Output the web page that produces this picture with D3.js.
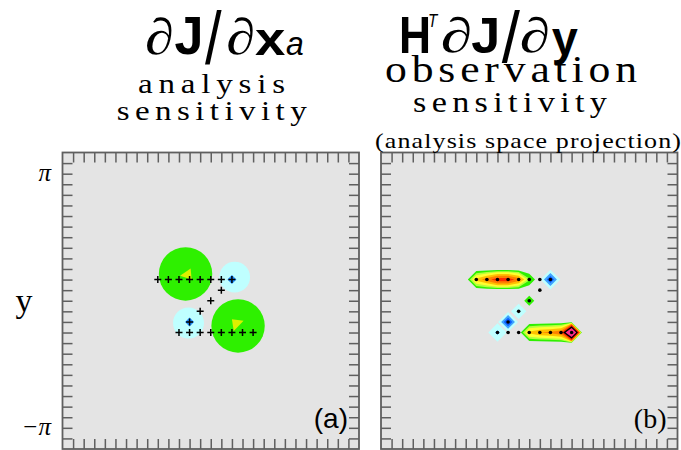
<!DOCTYPE html>
<html>
<head>
<meta charset="utf-8">
<script src="https://cdn.jsdelivr.net/npm/d3@7"></script>
<style>
  body { margin: 0; background: #fff; }
</style>
</head>
<body>
<svg id="chart" width="681" height="450"></svg>
<script>
// model grid: 29 x 29 points, index 2 = pi, index 26 = -pi
const gridN = 29;
const gridTicks = d3.range(1, 28);
const yTickVals = [Math.PI, -Math.PI];
const yTickLabels = ['π', '−π'];

// observation locations (grid index) along the Z path
const obsI = [9, 10, 11, 12, 13, 14, 15, 16, 15, 14, 13, 12, 11, 12, 13, 14, 15, 16, 17, 18];
const obsJ = [12, 12, 12, 12, 12, 12, 12, 12, 13, 14, 15, 16, 17, 17, 17, 17, 17, 17, 17, 17];

// panel (b): observation sensitivity at each location
const obsSens = [0.5, 0.7, 0.95, 0.95, 0.7, 0.22, 0.0, -0.9,
                 0.0, 0.19, -0.22, -1.0,
                 -0.45, 0.0, 0.0, 0.5, 0.6, 0.65, 0.75, 3.0];

const posLevels = [0.1, 0.2, 0.3, 0.45, 0.6, 0.8, 1.2, 1.7, 2.5];
const posColors = ['#2ef000', '#b4ff3c', '#ffff30', '#ffc000', '#ff8000', '#ff2a00', '#000000', '#ff2a8c', '#ff8ad8'];
const negLevels = [0.06, 0.35, 0.6];
const negColors = ['#bfffff', '#3ea2ff', '#0a5cff'];

// panel (a): analysis sensitivity features (grid units)
const bigBlobI = [11.62, 16.58];
const bigBlobJ = [11.47, 16.38];
const bigBlobR = [2.52, 2.52];
const smallBlobI = [16.26, 11.9];
const smallBlobJ = [11.77, 16.1];
const smallBlobR = [1.45, 1.46];
const peakTriangles = [
  [[11.1, 11.65], [12.1, 10.95], [12.2, 12.0]],
  [[16.0, 15.75], [17.1, 15.9], [16.17, 16.85]]
];
const minI = [16, 12];
const minJ = [12, 16];

const svg = d3.select('#chart');
const size = 296.5;
const frameTop = 152.5;
const frameColor = '#5f5f5f';

const panels = [
  { left: 62.5, label: '(a)' },
  { left: 381, label: '(b)' }
];

const serif = '"Liberation Serif", "DejaVu Serif", serif';
const sans = '"Liberation Sans", Arial, sans-serif';
const ctx = document.createElement('canvas').getContext('2d');

function drawFrame(p, drawContent) {
  const gx = d3.scaleLinear().domain([0, 28]).range([p.left, p.left + size]);
  const gy = d3.scaleLinear().domain([0, 28]).range([frameTop, frameTop + size]);
  const g = svg.append('g');

  g.append('rect')
    .attr('x', p.left).attr('y', frameTop)
    .attr('width', size).attr('height', size)
    .attr('fill', '#e4e4e4');

  drawContent(g, gx, gy);

  const axes = [
    [d3.axisTop(gx), `translate(0,${frameTop})`],
    [d3.axisBottom(gx), `translate(0,${frameTop + size})`],
    [d3.axisLeft(gy), `translate(${p.left},0)`],
    [d3.axisRight(gy), `translate(${p.left + size},0)`]
  ];
  axes.forEach(([ax, tr]) => {
    g.append('g')
      .attr('transform', tr)
      .call(ax.tickValues(gridTicks).tickSize(-10).tickFormat(''))
      .call(a => a.select('.domain').remove())
      .selectAll('line')
      .attr('stroke', frameColor)
      .attr('stroke-width', 1.5);
  });

  g.append('rect')
    .attr('x', p.left).attr('y', frameTop)
    .attr('width', size).attr('height', size)
    .attr('fill', 'none')
    .attr('stroke', frameColor)
    .attr('stroke-width', 1.8);

  g.append('text')
    .attr('x', p.left + size - 11)
    .attr('y', frameTop + size - 21)
    .attr('text-anchor', 'end')
    .style('font-family', p.label === '(a)' ? sans : serif)
    .style('font-size', '28px')
    .text(p.label);
  return { gx, gy };
}

// panel (a)
const pa = drawFrame(panels[0], (g, gx, gy) => {
  const rpx = r => gx(r) - gx(0);
  g.selectAll('circle.big')
    .data(bigBlobI)
    .join('circle')
    .attr('class', 'big')
    .attr('cx', d => gx(d))
    .attr('cy', (d, i) => gy(bigBlobJ[i]))
    .attr('r', (d, i) => rpx(bigBlobR[i]))
    .attr('fill', '#2ef000');

  g.selectAll('circle.small')
    .data(smallBlobI)
    .join('circle')
    .attr('class', 'small')
    .attr('cx', d => gx(d))
    .attr('cy', (d, i) => gy(smallBlobJ[i]))
    .attr('r', (d, i) => rpx(smallBlobR[i]))
    .attr('fill', '#bfffff');

  g.selectAll('path.peak')
    .data(peakTriangles)
    .join('path')
    .attr('class', 'peak')
    .attr('d', d => 'M' + d.map(v => [gx(v[0]), gy(v[1])].join(',')).join('L') + 'Z')
    .attr('fill', '#ddf000');

  g.selectAll('path.min')
    .data(minI)
    .join('path')
    .attr('class', 'min')
    .attr('d', (d, i) => {
      const x = gx(d), y = gy(minJ[i]), s = 4.5;
      return `M${x - s},${y}L${x},${y - s}L${x + s},${y}L${x},${y + s}Z`;
    })
    .attr('fill', '#1e8cff');

  g.selectAll('path.obs')
    .data(obsI)
    .join('path')
    .attr('class', 'obs')
    .attr('transform', (d, i) => `translate(${gx(d)},${gy(obsJ[i])})`)
    .attr('d', 'M-3.5,0H3.5M0,-3.5V3.5')
    .attr('stroke', '#000')
    .attr('stroke-width', 1.5);
});

// panel (b)
const pb = drawFrame(panels[1], (g, gx, gy) => {
  const pos = new Array(gridN * gridN).fill(0);
  const neg = new Array(gridN * gridN).fill(0);
  obsI.forEach((ix, k) => {
    const v = obsSens[k];
    if (v > 0) pos[obsJ[k] * gridN + ix] = v;
    if (v < 0) neg[obsJ[k] * gridN + ix] = -v;
  });

  // contour coords put grid point (i,j) at (i+0.5, j+0.5)
  const proj = d3.geoTransform({
    point: function(x, y) { this.stream.point(gx(x - 0.5), gy(y - 0.5)); }
  });
  const path = d3.geoPath(proj);

  g.selectAll('path.pos')
    .data(d3.contours().size([gridN, gridN]).thresholds(posLevels)(pos))
    .join('path')
    .attr('class', 'pos')
    .attr('d', path)
    .attr('fill', (d, i) => posColors[i]);

  g.selectAll('path.neg')
    .data(d3.contours().size([gridN, gridN]).thresholds(negLevels)(neg))
    .join('path')
    .attr('class', 'neg')
    .attr('d', path)
    .attr('fill', (d, i) => negColors[i]);

  g.selectAll('circle.obs')
    .data(obsI)
    .join('circle')
    .attr('class', 'obs')
    .attr('cx', d => gx(d))
    .attr('cy', (d, i) => gy(obsJ[i]))
    .attr('r', 1.8)
    .attr('fill', '#000');
});

// y axis labels (left panel only)
const yRad = d3.scaleLinear()
  .domain([Math.PI, -Math.PI])
  .range([pa.gy(2), pa.gy(26)]);
svg.selectAll('text.ytick')
  .data(yTickVals)
  .join('text')
  .attr('class', 'ytick')
  .attr('x', 51)
  .attr('y', d => yRad(d))
  .attr('dy', '0.3em')
  .attr('text-anchor', 'end')
  .style('font-family', serif)
  .style('font-style', 'italic')
  .style('font-size', '25px')
  .text((d, i) => yTickLabels[i]);

svg.append('text')
  .attr('x', 24)
  .attr('y', 312)
  .attr('text-anchor', 'middle')
  .style('font-family', serif)
  .style('font-size', '34px')
  .text('y');

// titles: each glyph is fitted to the box it takes in the picture
const titleGlyphs = [
  { t: '∂', f: serif, st: 'italic', box: [146.7, 171.7, 16.7, 55] },
  { t: 'J', f: sans, w: 'bold', box: [175, 200, 18, 55] },
  { t: '/', f: sans, box: [205, 221.7, 10, 65] },
  { t: '∂', f: serif, st: 'italic', box: [228, 253, 16.7, 55] },
  { t: 'x', f: sans, w: 'bold', box: [255, 285, 30, 55] },
  { t: 'a', f: sans, st: 'italic', box: [286.7, 303, 36.7, 55] },
  { t: 'H', f: sans, w: 'bold', box: [401.7, 428.3, 16.7, 53.3] },
  { t: 'T', f: sans, st: 'italic', box: [429.3, 438.3, 13.3, 26.7] },
  { t: '∂', f: serif, st: 'italic', box: [442.7, 470, 16.7, 53.3] },
  { t: 'J', f: sans, w: 'bold', box: [471.7, 496.7, 18, 53.3] },
  { t: '/', f: sans, box: [501.7, 520, 10, 63] },
  { t: '∂', f: serif, st: 'italic', box: [521.7, 548, 16.7, 53.3] },
  { t: 'y', f: sans, w: 'bold', box: [551.7, 578, 30, 65] }
];

titleGlyphs.forEach(s => {
  const st = s.st || 'normal', w = s.w || 'normal';
  ctx.font = `${st} ${w} 100px ${s.f}`;
  const m = ctx.measureText(s.t);
  const inkW = m.actualBoundingBoxLeft + m.actualBoundingBoxRight;
  const inkH = m.actualBoundingBoxAscent + m.actualBoundingBoxDescent;
  const [x0, x1, y0, y1] = s.box;
  const k = (y1 - y0) / inkH;
  const sx = (x1 - x0) / (inkW * k);
  const base = y1 - m.actualBoundingBoxDescent * k;
  svg.append('text')
    .attr('transform', `translate(${x0},${base}) scale(${sx},1)`)
    .attr('x', m.actualBoundingBoxLeft * k)
    .attr('y', 0)
    .style('font-family', s.f)
    .style('font-style', st)
    .style('font-weight', w)
    .style('font-size', (100 * k) + 'px')
    .text(s.t);
});

// subtitles: wide, light serif lettering; part stretch, part letter spacing
const subtitles = [
  { t: 'analysis', x: 211.5, y: 93, s: 28, len: 147 },
  { t: 'sensitivity', x: 211.7, y: 120, s: 28, len: 190 },
  { t: 'observation', x: 511, y: 82, s: 37, len: 252 },
  { t: 'sensitivity', x: 510, y: 112, s: 29, len: 194 },
  { t: '(analysis space projection)', x: 528, y: 148, s: 22, len: 306 }
];
subtitles.forEach(d => {
  ctx.font = `normal normal ${d.s}px ${serif}`;
  const natural = ctx.measureText(d.t).width;
  const sx = Math.min(1.18, d.len / natural);
  const gap = (d.len / sx - natural) / (d.t.length - 1);
  svg.append('text')
    .attr('transform', `translate(${d.x},${d.y}) scale(${sx},1)`)
    .attr('x', gap / 2)
    .attr('text-anchor', 'middle')
    .style('font-family', serif)
    .style('font-size', d.s + 'px')
    .style('letter-spacing', gap + 'px')
    .text(d.t);
});
</script>
</body>
</html>
